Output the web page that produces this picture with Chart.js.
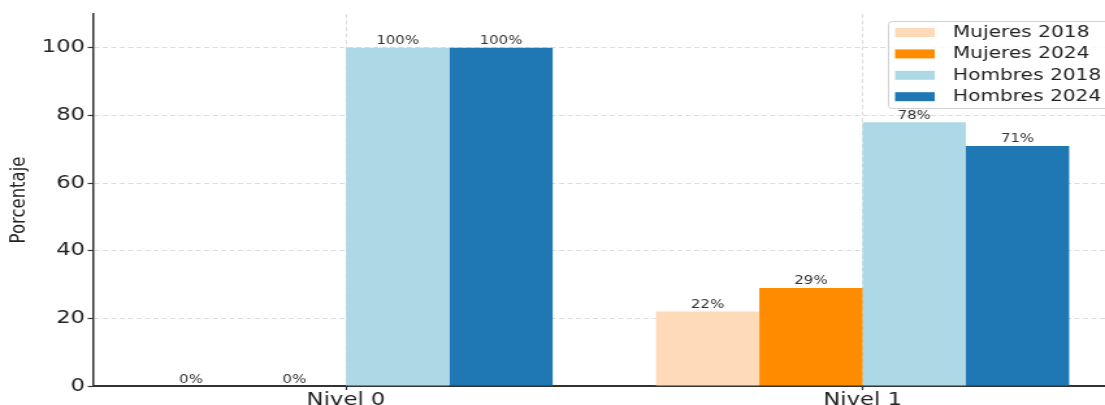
<!DOCTYPE html>
<html lang="es">
<head>
<meta charset="utf-8">
<title>Porcentaje por nivel</title>
<script src="https://cdn.jsdelivr.net/npm/chart.js@4.4.1/dist/chart.umd.min.js"></script>
<style>
  html, body { margin: 0; padding: 0; background: #fff; overflow: hidden; }
  body { width: 1105px; height: 405px; }
  /* el gráfico se dibuja algo más estrecho y se estira en horizontal */
  #wrap { width: 860px; height: 405px; transform: scaleX(1.3); transform-origin: 0 0; }
</style>
</head>
<body>
<div id="wrap"><canvas id="nivelesChart"></canvas></div>
<script>
// Datos
const niveles = ['Nivel 0', 'Nivel 1'];
const mujeres2018 = [0, 22];
const mujeres2024 = [0, 29];
const hombres2018 = [100, 78];
const hombres2024 = [100, 71];

const FONT = 'DejaVu Sans';

// puntos {x, y} sobre un eje lineal para dejar el mismo margen que matplotlib
const puntos = arr => arr.map((v, i) => ({ x: i, y: v }));

// Etiquetas de porcentaje encima de cada barra
const etiquetasBarras = {
  id: 'etiquetasBarras',
  afterDatasetsDraw(chart) {
    const ctx = chart.ctx;
    ctx.save();
    ctx.font = '11.5px "' + FONT + '"';
    ctx.fillStyle = '#333';
    ctx.textAlign = 'center';
    ctx.textBaseline = 'alphabetic';
    chart.data.datasets.forEach((ds, i) => {
      chart.getDatasetMeta(i).data.forEach((bar, j) => {
        ctx.fillText(ds.data[j].y + '%', bar.x, bar.y - 3.5);
      });
    });
    ctx.restore();
  }
};

// Leyenda dentro del área del gráfico, arriba a la derecha
const leyenda = {
  id: 'leyenda',
  afterDraw(chart) {
    const ctx = chart.ctx;
    const x = 683, y = 21, w = 180, h = 87;
    ctx.save();
    ctx.fillStyle = 'rgba(255,255,255,0.85)';
    ctx.strokeStyle = '#d0d0d0';
    ctx.lineWidth = 1;
    ctx.beginPath();
    ctx.roundRect(x + 0.5, y + 0.5, w, h, 3);
    ctx.fill();
    ctx.stroke();
    ctx.font = '15.5px "' + FONT + '"';
    ctx.textBaseline = 'middle';
    ctx.textAlign = 'left';
    chart.data.datasets.forEach((ds, i) => {
      const cy = y + 11.5 + i * 21.4;
      ctx.fillStyle = ds.backgroundColor;
      ctx.fillRect(x + 5.5, cy - 4.5, 30.5, 9);
      ctx.fillStyle = '#222';
      ctx.fillText(ds.label, x + 50, cy + 0.5);
    });
    ctx.restore();
  }
};

new Chart(document.getElementById('nivelesChart'), {
  type: 'bar',
  data: {
    datasets: [
      { label: 'Mujeres 2018', data: puntos(mujeres2018), backgroundColor: '#ffdab9' },
      { label: 'Mujeres 2024', data: puntos(mujeres2024), backgroundColor: '#ff8c00' },
      { label: 'Hombres 2018', data: puntos(hombres2018), backgroundColor: '#add8e6' },
      { label: 'Hombres 2024', data: puntos(hombres2024), backgroundColor: '#1f77b4' }
    ]
  },
  options: {
    responsive: true,
    maintainAspectRatio: false,
    animation: false,
    categoryPercentage: 0.8,
    barPercentage: 1.0,
    layout: { padding: { top: 14, right: 1.8, left: 0, bottom: 0 } },
    plugins: {
      legend: { display: false },
      tooltip: { enabled: false }
    },
    scales: {
      x: {
        type: 'linear',
        min: -0.49,
        max: 1.49,
        offset: false,
        afterFit: s => { s.height = 19; },
        ticks: {
          stepSize: 1,
          includeBounds: false,
          autoSkip: false,
          maxRotation: 0,
          padding: 0,
          color: '#222',
          font: { family: FONT, size: 17.5 },
          callback: v => (Number.isInteger(v) ? niveles[v] : '')
        },
        grid: {
          offset: false,
          color: '#dcdcdc',
          lineWidth: 1,
          tickColor: '#333',
          tickLength: 4,
          tickWidth: 1.2,
          tickBorderDash: []
        },
        border: { display: true, color: '#333', width: 2, dash: [4, 2.5] }
      },
      y: {
        min: 0,
        max: 110,
        afterFit: s => { s.width = 71.5; },
        ticks: {
          stepSize: 20,
          includeBounds: false,
          padding: 2,
          color: '#222',
          font: { family: FONT, size: 17.5 }
        },
        grid: {
          color: '#dcdcdc',
          lineWidth: 1,
          tickColor: '#333',
          tickLength: 4,
          tickWidth: 1.2,
          tickBorderDash: []
        },
        border: { display: true, color: '#333', width: 1.5, dash: [4, 2.5] },
        title: {
          display: true,
          text: 'Porcentaje',
          color: '#222',
          font: { family: FONT, size: 16.5 },
          padding: { top: 5, bottom: 0 }
        }
      }
    }
  },
  plugins: [etiquetasBarras, leyenda]
});
</script>
</body>
</html>
